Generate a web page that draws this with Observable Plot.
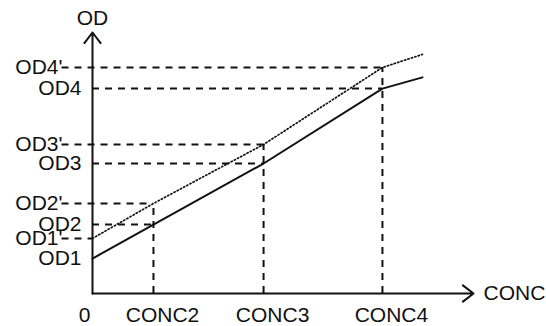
<!DOCTYPE html>
<html>
<head>
<meta charset="utf-8">
<script src="https://cdn.jsdelivr.net/npm/d3@7"></script>
<script src="https://cdn.jsdelivr.net/npm/@observablehq/plot@0.6"></script>
<style>
  html, body { margin: 0; padding: 0; background: #fff; }
  svg { display: block; }
</style>
</head>
<body>
<div id="chart"></div>
<script>
// Tick labels and values
const concLabels = ["CONC2", "CONC3", "CONC4"];
const concValues = [16, 44.9, 76.1];
const odLabels = ["OD1", "OD2", "OD3", "OD4"];
const odValues = [13.4, 26.4, 49.8, 78.5];
const odPrimeLabels = ["OD1'", "OD2'", "OD3'", "OD4'"];
const odPrimeValues = [21.1, 34.5, 57.1, 86.6];
// Curves
const curveX = [0, 16, 44.9, 76.1, 86.6];
const solidY = [13.4, 26.4, 49.8, 78.5, 82.8];
const dottedY = [21.1, 34.5, 57.1, 86.6, 91.6];
const axisMax = 100;

const ink = "#111";
const dash = "7,6";
const font = "Liberation Sans, Arial, sans-serif";
const fs = 21;

const solid = curveX.map((x, i) => ({x, y: solidY[i]}));
const dotted = curveX.map((x, i) => ({x, y: dottedY[i]}));
const concXs = [0, ...concValues]; // x for OD1..OD4
const hUnprimed = odLabels.slice(1).map((l, i) => ({x1: 0, x2: concValues[i], y: odValues[i + 1]}));
const hPrimed = odPrimeLabels.map((l, i) => ({x1: -8, x2: concXs[i], y: odPrimeValues[i]}));
const vLines = concValues.map((c, i) => ({x: c, y1: 0, y2: odPrimeValues[i + 1]}));
const yTick = odLabels.map((l, i) => ({label: l, y: odValues[i]}));
const yTickP = odPrimeLabels.map((l, i) => ({label: l, y: odPrimeValues[i]}));
const xTick = concLabels.map((l, i) => ({label: l, x: concValues[i]}));

const chart = Plot.plot({
  width: 546,
  height: 326,
  marginLeft: 92,
  marginRight: 73,
  marginTop: 32,
  marginBottom: 33,
  x: {domain: [0, axisMax], axis: null},
  y: {domain: [0, axisMax], axis: null},
  style: {fontFamily: font, background: "#fff"},
  marks: [
    Plot.ruleY(hUnprimed, {x1: "x1", x2: "x2", y: "y", stroke: ink, strokeWidth: 2, strokeDasharray: dash}),
    Plot.ruleY(hPrimed, {x1: "x1", x2: "x2", y: "y", stroke: ink, strokeWidth: 2, strokeDasharray: dash}),
    Plot.ruleX(vLines, {x: "x", y1: "y1", y2: "y2", stroke: ink, strokeWidth: 2, strokeDasharray: dash}),
    Plot.line(solid, {x: "x", y: "y", stroke: ink, strokeWidth: 2}),
    Plot.line(dotted, {x: "x", y: "y", stroke: ink, strokeWidth: 1.7, strokeDasharray: "1.3,2.3"}),
    Plot.arrow([{x1: 0, y1: 0, x2: 0, y2: axisMax}], {x1: "x1", y1: "y1", x2: "x2", y2: "y2", stroke: ink, strokeWidth: 2, headLength: 10, headAngle: 75}),
    Plot.arrow([{x1: 0, y1: 0, x2: axisMax, y2: 0}], {x1: "x1", y1: "y1", x2: "x2", y2: "y2", stroke: ink, strokeWidth: 2, headLength: 10, headAngle: 75}),
    Plot.text(yTick, {x: 0, y: "y", text: "label", textAnchor: "end", dx: -11, fontSize: fs, fill: ink}),
    Plot.text(yTickP, {x: 0, y: "y", text: "label", textAnchor: "end", dx: -30, fontSize: fs, fill: ink}),
    Plot.text(xTick, {x: "x", y: 0, text: "label", dx: 9, dy: 22, fontSize: fs, fill: ink}),
    Plot.text(["0"], {x: 0, y: 0, text: d => d, dx: -8, dy: 22, fontSize: fs, fill: ink}),
    Plot.text(["OD"], {x: 0, y: axisMax, text: d => d, dy: -14, fontSize: fs, fill: ink}),
    Plot.text(["CONC"], {x: axisMax, y: 0, text: d => d, textAnchor: "start", dx: 10, fontSize: fs, fill: ink})
  ]
});
document.getElementById("chart").appendChild(chart);
</script>
</body>
</html>
